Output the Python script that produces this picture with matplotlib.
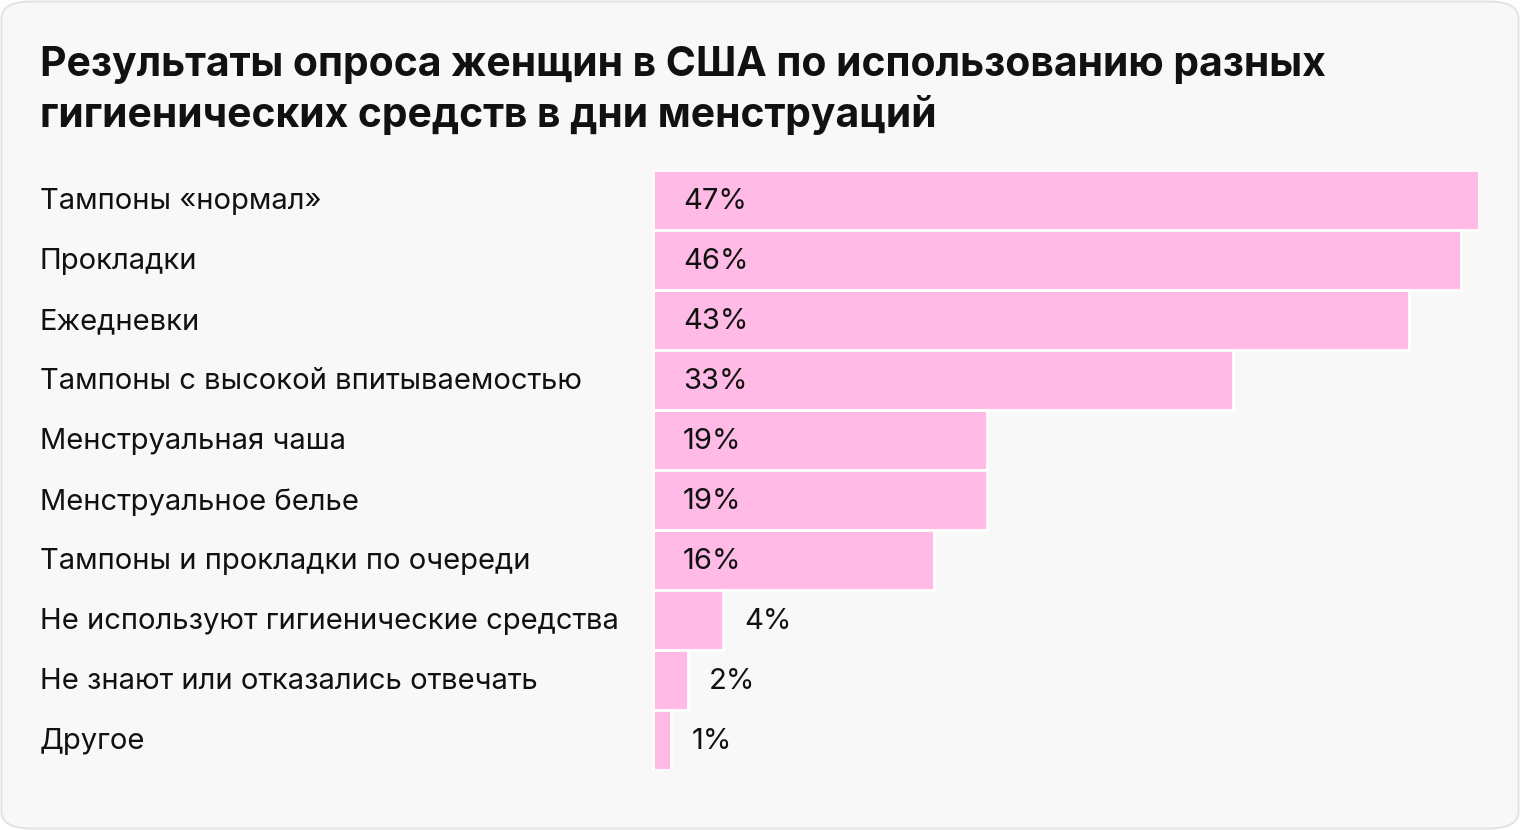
import matplotlib
matplotlib.use('Agg')
import matplotlib.pyplot as plt
import matplotlib.patches as mpatches
import matplotlib.transforms as mtransforms

plt.rcParams['font.family'] = ['Inter', 'DejaVu Sans']

# Data
categories = [
    'Тампоны «нормал»',
    'Прокладки',
    'Ежедневки',
    'Тампоны с высокой впитываемостью',
    'Менструальная чаша',
    'Менструальное белье',
    'Тампоны и прокладки по очереди',
    'Не используют гигиенические средства',
    'Не знают или отказались отвечать',
    'Другое',
]
values = [47, 46, 43, 33, 19, 19, 16, 4, 2, 1]
title = ('Результаты опроса женщин в США по использованию разных\n'
         'гигиенических средств в дни менструаций')

W, H = 1520, 830
fig = plt.figure(figsize=(W / 100, H / 100), dpi=100)
fig.patch.set_facecolor('white')

# rounded card background
card = mpatches.FancyBboxPatch((1.5 / W, 1.5 / H), (W - 3) / W, (H - 3) / H,
                               boxstyle=mpatches.BoxStyle('Round', pad=0, rounding_size=0.02),
                               transform=fig.transFigure, facecolor='#f8f8f8',
                               edgecolor='#e4e4e4', linewidth=1.5, zorder=-10)
fig.patches.append(card)

fig.text(40 / W, 1 - 46 / H, title, fontsize=29.4, fontweight='bold',
         color='#111111', ha='left', va='top', linespacing=1.33)

ax = fig.add_axes([653 / W, 60 / H, 826 / W, 600 / H])
ax.set_facecolor('none')
ax.set_zorder(5)
y = list(range(len(categories)))
ax.barh(y, values, height=1.0, color='#ffbbe6', edgecolor='white', linewidth=2)
ax.set_xlim(0, max(values))
ax.set_ylim(len(categories) - 0.5, -0.5)
ax.axis('off')

trans = mtransforms.blended_transform_factory(fig.transFigure, ax.transData)
for i, (c, v) in enumerate(zip(categories, values)):
    ax.text(40 / W, i + 0.03, c, transform=trans, fontsize=21, color='#111111',
            ha='left', va='center', clip_on=False)
    if v >= 10:
        ax.annotate(f'{v}%', xy=(0, i + 0.03), xytext=(30, 0), textcoords='offset pixels',
                    fontsize=21, color='#111111', ha='left', va='center')
    else:
        ax.annotate(f'{v}%', xy=(v, i + 0.03), xytext=(21, 0), textcoords='offset pixels',
                    fontsize=21, color='#111111', ha='left', va='center')

fig.savefig('out.png', dpi=100, facecolor='white')
